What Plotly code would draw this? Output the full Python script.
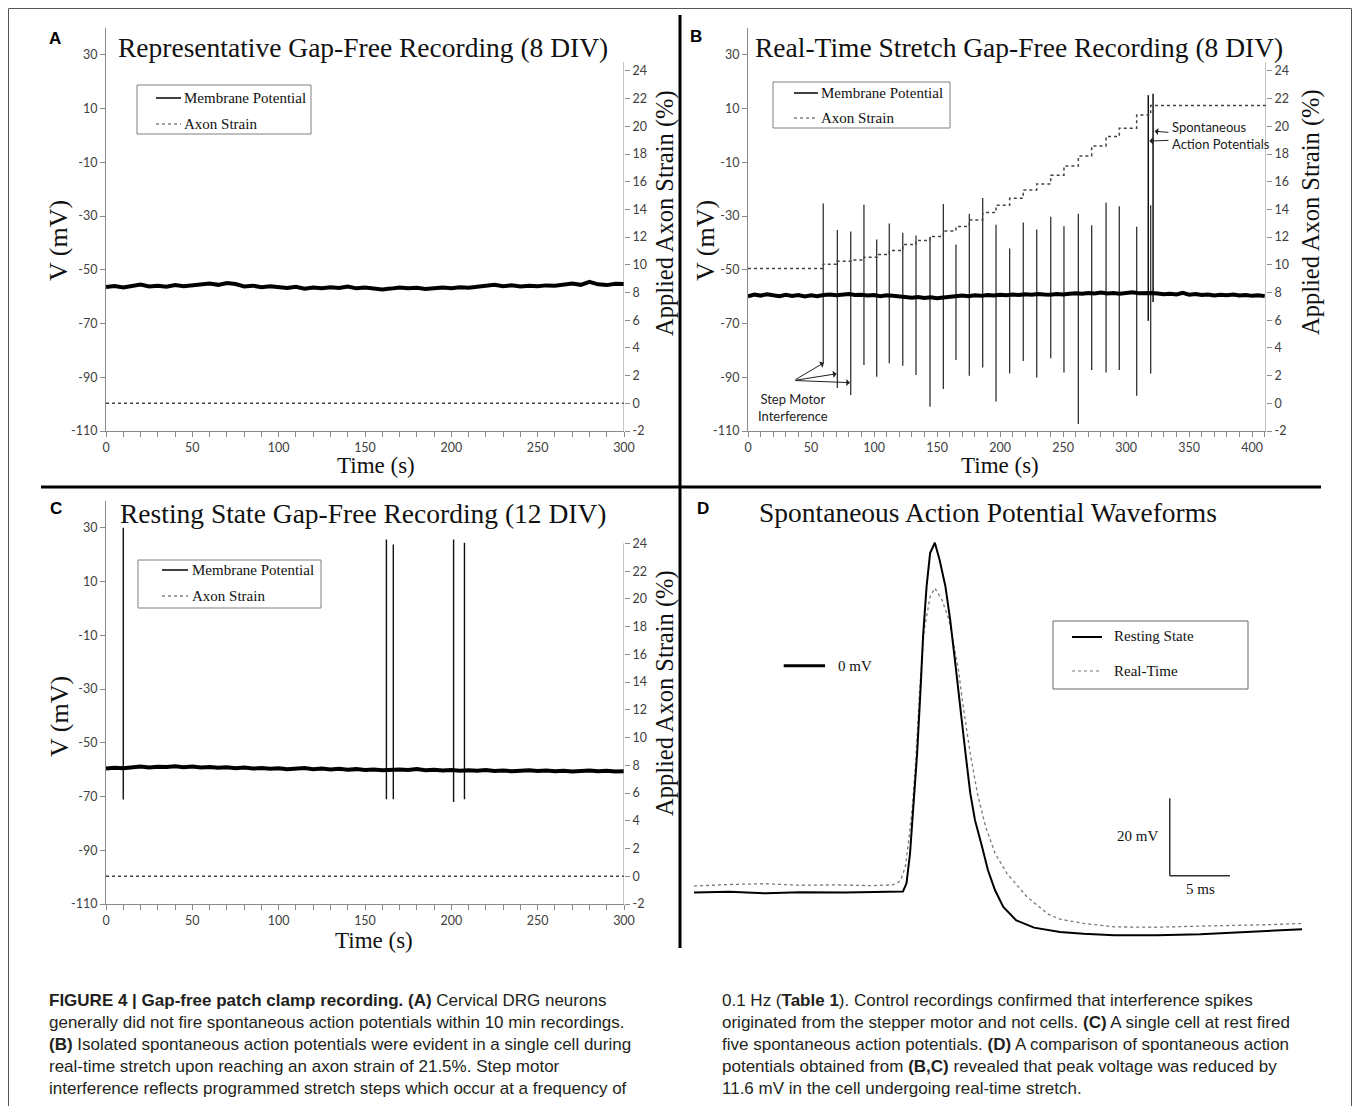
import plotly.graph_objects as go

# The page body has an 8 px margin, so the figure is drawn 8 px in from the window edge.
OX, OY = 8, 8
FW, FH = 1344, 1098
SERIF = "Liberation Serif"
SANS = "Liberation Sans"
TICKF = "Lato"
AX = "#8a8a8a"
TICKCOL = "#404040"

# ---------------- Panel A data ----------------
A_time = list(range(0, 301, 5))
A_vm = [-56.4, -56.0, -56.6, -55.9, -55.5, -56.2, -55.9, -56.3, -55.7, -56.1,
        -55.8, -55.6, -55.1, -55.6, -54.9, -55.3, -56.2, -55.9, -56.5, -56.1,
        -56.4, -56.8, -56.3, -57.0, -56.6, -56.9, -56.5, -56.8, -56.2, -56.9,
        -56.6, -56.9, -57.3, -57.0, -56.6, -56.9, -56.7, -57.1, -57.0, -56.6,
        -56.9, -56.5, -56.7, -56.3, -56.0, -55.6, -56.1, -55.8, -56.2, -55.9,
        -56.1, -55.8, -55.9, -55.6, -55.1, -55.6, -54.5, -55.4, -55.7, -55.2,
        -55.3]
A_strain_time = [0, 300]
A_strain = [0, 0]

# ---------------- Panel B data ----------------
B_time = list(range(0, 411, 5))
B_vm = [-59.9, -59.2, -59.6, -59.1, -59.5, -59.8, -59.3, -59.7, -59.4, -59.9,
        -59.5, -59.8, -59.4, -59.2, -59.5, -59.1, -59.0, -59.4, -59.3, -59.6,
        -59.4, -59.8, -59.5, -59.7, -59.9, -60.2, -60.4, -60.1, -60.5, -60.2,
        -60.6, -60.3, -60.1, -59.8, -59.6, -59.8, -59.5, -59.7, -59.4, -59.6,
        -59.3, -59.5, -59.2, -59.4, -59.1, -59.3, -59.0, -59.2, -59.3, -59.0,
        -59.2, -58.9, -58.7, -58.9, -58.6, -58.8, -58.5, -58.8, -58.6, -58.9,
        -58.6, -58.4, -58.7, -58.5, -58.6, -58.8, -59.1, -58.9, -59.2, -58.6,
        -59.3, -59.0, -59.4, -59.2, -59.6, -59.3, -59.5, -59.2, -59.6, -59.4,
        -59.7, -59.5, -59.8]
B_step_times = [59.7, 70.9, 81.5, 92.0, 102.1, 112.1, 122.8, 133.3, 144.4, 155.0,
                165.0, 175.6, 186.2, 196.8, 207.6, 218.4, 229.1, 240.2, 250.7, 262.1,
                272.7, 284.1, 294.6, 308.4, 319.5]
B_step_tops = [-25.3, -35.2, -35.7, -25.8, -38.7, -32.8, -36.2, -37.2, -37.7, -25.5,
               -40.6, -29.1, -23.3, -33.2, -42.1, -32.4, -35.0, -30.3, -33.8, -29.1,
               -33.4, -25.0, -26.3, -34.0, -26.0]
B_step_bottoms = [-84.8, -94.0, -96.6, -85.4, -89.8, -84.8, -85.7, -89.2, -101.0, -94.4,
                  -83.6, -89.4, -86.4, -99.0, -88.5, -83.9, -90.1, -82.9, -88.2, -107.4,
                  -87.3, -88.2, -87.3, -96.9, -88.6]
B_ap_times = [317.6, 321.4]
B_ap_tops = [15.0, 15.5]
B_ap_bottoms = [-69.0, -62.0]
B_strain_levels = [9.73, 10.04, 10.26, 10.35, 10.55, 10.74, 11.03, 11.46, 11.75, 12.04,
                   12.45, 12.76, 13.24, 13.77, 14.30, 14.80, 15.41, 15.84, 16.47, 17.14,
                   17.86, 18.58, 19.26, 19.86, 20.82, 21.5]
B_end = 411

# ---------------- Panel C data ----------------
C_time = list(range(0, 301, 5))
C_vm = [-59.6, -59.3, -59.5, -59.1, -58.8, -59.2, -58.9, -59.0, -58.7, -59.1,
        -58.8, -59.2, -59.0, -59.3, -59.1, -59.5, -59.2, -59.6, -59.4, -59.7,
        -59.5, -59.8, -59.6, -59.4, -59.8, -59.6, -59.9, -59.7, -60.0, -59.8,
        -60.1, -59.9, -60.2, -60.0, -59.9, -60.1, -59.8, -60.2, -60.0, -60.3,
        -60.1, -60.4, -60.2, -60.4, -60.1, -60.5, -60.3, -60.6, -60.4, -60.2,
        -60.5, -60.3, -60.6, -60.4, -60.7, -60.5, -60.3, -60.6, -60.4, -60.7,
        -60.6]
C_ap_times = [10.0, 162.4, 166.4, 201.3, 207.6]
C_ap_tops = [30.0, 25.7, 23.8, 25.7, 24.5]
C_ap_bottoms = [-71.1, -71.0, -71.0, -72.0, -71.0]
C_strain_time = [0, 300]
C_strain = [0, 0]

# ---------------- Panel D data (ms, mV) ----------------
D_rest_t = [0, 3, 6.1, 9, 12.8, 15, 17.7, 18.0, 18.3, 18.6,
            18.9, 19.2, 19.4, 19.7, 20.0, 20.4, 20.8, 21.3, 21.7, 22.1,
            22.5, 23.0, 23.4, 23.8, 24.4, 24.9, 25.5, 26.2, 27.3, 28.8,
            31.0, 33.0, 35.6, 39.2, 42.9, 46.6, 49, 51.5]
D_rest_v = [-58.9, -58.7, -59.1, -58.8, -58.9, -58.7, -58.6, -56.5, -48.7, -35.7,
            -22.8, -5.5, 7.5, 20.5, 29.2, 31.9, 27.5, 20.5, 11.9, 1.5,
            -9.8, -22.8, -33.1, -40.1, -47.0, -53.1, -58.3, -62.6, -66.1, -68.0,
            -69.1, -69.6, -70.0, -70.0, -69.7, -69.1, -68.8, -68.4]
D_rt_t = [0, 3, 6, 9, 12, 15, 16.8, 17.2, 17.5, 17.9,
          18.2, 18.5, 18.8, 19.1, 19.5, 20.0, 20.4, 21.0, 21.6, 22.0,
          22.4, 22.8, 23.4, 24.0, 24.7, 25.5, 26.5, 28.2, 30.0, 31.0,
          33.0, 35.6, 39.0, 42.9, 46.6, 49.0, 51.5]
D_rt_v = [-57.2, -56.8, -56.6, -57.0, -56.9, -57.1, -56.9, -56.5, -55.7, -52.2,
          -45.0, -36.5, -24.0, -7.0, 9.3, 17.9, 20.1, 17.1, 11.9, 4.9,
          -1.1, -10.6, -22.8, -33.1, -41.8, -48.7, -53.9, -60.0, -64.5, -65.8,
          -66.9, -67.8, -67.9, -67.6, -67.4, -67.2, -66.9]

# tick labels
V_TICKS = [-110, -90, -70, -50, -30, -10, 10, 30]
V_TICKTEXT = [str(v) for v in V_TICKS]
S_TICKS = [-2, 0, 2, 4, 6, 8, 10, 12, 14, 16, 18, 20, 22, 24]
S_TICKTEXT = [str(v) for v in S_TICKS]
T_TICKS_300 = [0, 50, 100, 150, 200, 250, 300]
T_TICKS_400 = [0, 50, 100, 150, 200, 250, 300, 350, 400]


def px(x):
    return (x - OX) / FW


def py(y):
    return 1 - (y - OY) / FH


def spike_xy(times, tops, bottoms):
    xs, ys = [], []
    for t, a, b in zip(times, tops, bottoms):
        xs += [t, t, None]
        ys += [a, b, None]
    return xs, ys


fig = go.Figure()
BASEW = 4

# Panel A
fig.add_trace(go.Scatter(x=A_time, y=A_vm, mode="lines", line=dict(color="black", width=BASEW),
                         xaxis="x", yaxis="y", name="Membrane Potential", showlegend=False))
fig.add_trace(go.Scatter(x=A_strain_time, y=A_strain, mode="lines",
                         line=dict(color="#444", width=1.5, dash="dot"),
                         xaxis="x", yaxis="y2", name="Axon Strain", showlegend=False))

# Panel B
sx, sy = spike_xy(B_step_times, B_step_tops, B_step_bottoms)
fig.add_trace(go.Scatter(x=sx, y=sy, mode="lines", line=dict(color="#333", width=1.3),
                         xaxis="x2", yaxis="y3", name="Step motor interference", showlegend=False))
ax_, ay_ = spike_xy(B_ap_times, B_ap_tops, B_ap_bottoms)
fig.add_trace(go.Scatter(x=ax_, y=ay_, mode="lines", line=dict(color="#111", width=1.5),
                         xaxis="x2", yaxis="y3", name="Spontaneous AP", showlegend=False))
fig.add_trace(go.Scatter(x=B_time, y=B_vm, mode="lines", line=dict(color="black", width=BASEW),
                         xaxis="x2", yaxis="y3", name="Membrane Potential", showlegend=False))
fig.add_trace(go.Scatter(x=[0] + B_step_times + [B_end], y=B_strain_levels + [B_strain_levels[-1]],
                         mode="lines", line=dict(color="#444", width=1.5, dash="dot", shape="hv"),
                         xaxis="x2", yaxis="y4", name="Axon Strain", showlegend=False))

# Panel C
cx, cy = spike_xy(C_ap_times, C_ap_tops, C_ap_bottoms)
fig.add_trace(go.Scatter(x=cx, y=cy, mode="lines", line=dict(color="#111", width=1.4),
                         xaxis="x3", yaxis="y5", name="Spontaneous AP", showlegend=False))
fig.add_trace(go.Scatter(x=C_time, y=C_vm, mode="lines", line=dict(color="black", width=BASEW),
                         xaxis="x3", yaxis="y5", name="Membrane Potential", showlegend=False))
fig.add_trace(go.Scatter(x=C_strain_time, y=C_strain, mode="lines",
                         line=dict(color="#444", width=1.5, dash="dot"),
                         xaxis="x3", yaxis="y6", name="Axon Strain", showlegend=False))

# Panel D
fig.add_trace(go.Scatter(x=D_rt_t, y=D_rt_v, mode="lines", line=dict(color="#777", width=1.3, dash="dot"),
                         xaxis="x4", yaxis="y7", name="Real-Time", showlegend=False))
fig.add_trace(go.Scatter(x=D_rest_t, y=D_rest_v, mode="lines", line=dict(color="black", width=2),
                         xaxis="x4", yaxis="y7", name="Resting State", showlegend=False))

tickfont = dict(family=TICKF, size=12.5, color=TICKCOL)


def xcfg(dom, rng, ticks, anchor):
    return dict(domain=dom, range=rng, anchor=anchor, tickmode="array", tickvals=ticks,
                ticktext=[str(t) for t in ticks],
                showline=True, linecolor=AX, linewidth=1, ticks="outside", ticklen=5, tickcolor=AX,
                minor=dict(tick0=0, dtick=10, ticks="outside", ticklen=5, tickcolor=AX, showgrid=False),
                showgrid=False, zeroline=False, tickfont=tickfont, automargin=False)


def ycfg(dom, anchor):
    return dict(domain=dom, range=[-110, 40], anchor=anchor, tickmode="array", tickvals=V_TICKS,
                ticktext=V_TICKTEXT, showline=True, linecolor=AX, linewidth=1, ticks="outside",
                ticklen=5, tickcolor=AX, showgrid=False, zeroline=False, tickfont=tickfont,
                automargin=False)


def y2cfg(overlay, anchor, top):
    return dict(overlaying=overlay, side="right", anchor=anchor, range=[-2, top], tickmode="array",
                tickvals=S_TICKS, ticktext=S_TICKTEXT, showline=False, ticks="outside", ticklen=5,
                tickcolor=AX, showgrid=False, zeroline=False, tickfont=tickfont, automargin=False)


domA_x = [px(106), px(624)]
domB_x = [px(748), px(1266)]
dom_top_y = [py(431), py(28)]
dom_bot_y = [py(904), py(501)]

layout = dict(
    width=FW, height=FH, paper_bgcolor="white", plot_bgcolor="rgba(0,0,0,0)",
    margin=dict(l=0, r=0, t=0, b=0, autoexpand=False),
    font=dict(family=SERIF, color="#111"),
    showlegend=False,
    xaxis=xcfg(domA_x, [0, 300], T_TICKS_300, "y"),
    yaxis=ycfg(dom_top_y, "x"),
    yaxis2=y2cfg("y", "x", 27.1),
    xaxis2=xcfg(domB_x, [0, B_end], T_TICKS_400, "y3"),
    yaxis3=ycfg(dom_top_y, "x2"),
    yaxis4=y2cfg("y3", "x2", 27.1),
    xaxis3=xcfg(domA_x, [0, 300], T_TICKS_300, "y5"),
    yaxis5=ycfg(dom_bot_y, "x3"),
    yaxis6=y2cfg("y5", "x3", 27.06),
    xaxis4=dict(domain=[px(694), px(1302)], range=[0, 51.5], anchor="y7", visible=False),
    yaxis7=dict(domain=[py(950), py(530)], range=[-73.8, 35.2], anchor="x4", visible=False),
)
fig.update_layout(**layout)

shapes = []
ann = []


def pline(x0, y0, x1, y1, color="black", width=1, dash=None):
    d = dict(type="line", xref="paper", yref="paper", x0=px(x0), y0=py(y0), x1=px(x1), y1=py(y1),
             line=dict(color=color, width=width))
    if dash:
        d["line"]["dash"] = dash
    shapes.append(d)


def prect(x0, y0, x1, y1, color="#808080"):
    shapes.append(dict(type="rect", xref="paper", yref="paper", x0=px(x0), y0=py(y0), x1=px(x1),
                       y1=py(y1), line=dict(color=color, width=1), fillcolor="rgba(0,0,0,0)"))


def ptext(x, y, text, size, family=SERIF, xanchor="center", color="#111", angle=0):
    ann.append(dict(xref="paper", yref="paper", x=px(x), y=py(y), text=text, showarrow=False,
                    xanchor=xanchor, yanchor="middle", textangle=angle,
                    font=dict(family=family, size=size, color=color)))


# frame and dividers
pline(8.5, 8.5, 1351.5, 8.5, "#555", 1)
pline(8.5, 8.5, 8.5, 1106, "#555", 1)
pline(1351.5, 8.5, 1351.5, 1106, "#555", 1)
pline(680, 15, 680, 948, "black", 3)
pline(41, 487, 1321, 487, "black", 3)

# right axis lines (partial)
shapes.append(dict(type="line", xref="x", yref="y2", x0=300, x1=300, y0=-2, y1=24.65, line=dict(color=AX, width=1)))
shapes.append(dict(type="line", xref="x2", yref="y4", x0=B_end, x1=B_end, y0=-2, y1=24.63, line=dict(color=AX, width=1)))
shapes.append(dict(type="line", xref="x3", yref="y6", x0=300, x1=300, y0=-2, y1=24.0, line=dict(color=AX, width=1)))

# panel letters
ptext(55, 38, "<b>A</b>", 17, SANS, color="black")
ptext(696, 37, "<b>B</b>", 17, SANS, color="black")
ptext(56, 508, "<b>C</b>", 17, SANS, color="black")
ptext(703, 509, "<b>D</b>", 17, SANS, color="black")

# titles
ptext(363, 47, "Representative Gap-Free Recording (8 DIV)", 27.5)
ptext(1019, 47, "Real-Time Stretch Gap-Free Recording (8 DIV)", 27.5)
ptext(363, 513, "Resting State Gap-Free Recording (12 DIV)", 27.5)
ptext(988, 512, "Spontaneous Action Potential Waveforms", 27.5)

# axis titles
ptext(59, 240, "V (mV)", 26, angle=-90)
ptext(665, 213, "Applied Axon Strain (%)", 24.5, angle=-90)
ptext(376, 466, "Time (s)", 23)
ptext(705, 241, "V (mV)", 26, angle=-90)
ptext(1311, 212, "Applied Axon Strain (%)", 24.5, angle=-90)
ptext(1000, 466, "Time (s)", 23)
ptext(59, 716, "V (mV)", 26, angle=-90)
ptext(665, 693, "Applied Axon Strain (%)", 24.5, angle=-90)
ptext(374, 940, "Time (s)", 23)


# legends A, B, C
def legend_box(x0, y0, x1, y1, sx0, sx1, ya, yb, tx):
    prect(x0, y0, x1, y1)
    pline(sx0, ya, sx1, ya, "black", 1.5)
    pline(sx0, yb, sx1, yb, "#444", 1.2, "dot")
    ptext(tx, ya, "Membrane Potential", 15, xanchor="left")
    ptext(tx, yb, "Axon Strain", 15, xanchor="left")


legend_box(137, 85, 311, 134, 156, 181, 98, 124, 182)
legend_box(773, 82, 950, 128, 794, 818, 93, 118, 819)
legend_box(138, 560, 321, 608, 162, 188, 570, 596, 190)

# legend D
prect(1053, 621, 1248, 689, "#666")
pline(1072, 637, 1102, 637, "black", 2)
pline(1072, 671, 1102, 671, "#777", 1.2, "dot")
ptext(1112, 636, "Resting State", 15, xanchor="left")
ptext(1112, 671, "Real-Time", 15, xanchor="left")

# panel D scale bars (data coords)
shapes.append(dict(type="line", xref="x4", yref="y7", x0=7.6, x1=11.1, y0=0, y1=0, line=dict(color="black", width=3)))
shapes.append(dict(type="line", xref="x4", yref="y7", x0=40.3, x1=40.3, y0=-34.4, y1=-54.5, line=dict(color="#333", width=1.5)))
shapes.append(dict(type="line", xref="x4", yref="y7", x0=40.3, x1=45.4, y0=-54.5, y1=-54.5, line=dict(color="#333", width=1.5)))
ann.append(dict(xref="x4", yref="y7", x=12.0, y=0, text="0 mV", showarrow=False, xanchor="left",
                yanchor="middle", font=dict(family=SERIF, size=15, color="#111")))
ann.append(dict(xref="x4", yref="y7", x=39.5, y=-44.2, text="20 mV", showarrow=False, xanchor="right",
                yanchor="middle", font=dict(family=SERIF, size=15, color="#111")))
ann.append(dict(xref="x4", yref="y7", x=42.9, y=-57.9, text="5 ms", showarrow=False, xanchor="center",
                yanchor="middle", font=dict(family=SERIF, size=15, color="#111")))

# panel B annotations
afont = dict(family=TICKF, size=13, color="#222")
for hx, hy in [(60.2, -84.6), (70.3, -88.7), (80.9, -92.0)]:
    ann.append(dict(xref="x2", yref="y3", axref="x2", ayref="y3", x=hx, y=hy, ax=36.5, ay=-91.2,
                    text="", showarrow=True, arrowhead=1, arrowsize=1.2, arrowwidth=1, arrowcolor="#222"))
ann.append(dict(xref="x2", yref="y3", x=35.5, y=-94.5, text="Step Motor<br>Interference", showarrow=False,
                xanchor="center", yanchor="top", font=afont))
for hx, hy, tx, ty in [(322.6, 1.6, 334.8, 1.1), (318.4, -2.1, 334.8, -1.8)]:
    ann.append(dict(xref="x2", yref="y3", axref="x2", ayref="y3", x=hx, y=hy, ax=tx, ay=ty,
                    text="", showarrow=True, arrowhead=1, arrowsize=1.2, arrowwidth=1, arrowcolor="#222"))
ann.append(dict(xref="x2", yref="y3", x=335.2, y=-0.2, text="Spontaneous<br>Action Potentials",
                showarrow=False, xanchor="left", yanchor="middle", align="left", font=afont))

# caption
CAP = dict(family=SANS, size=17, color="#231f20")
left_lines = [
    "<b>FIGURE 4 | Gap-free patch clamp recording. (A)</b> Cervical DRG neurons",
    "generally did not fire spontaneous action potentials within 10 min recordings.",
    "<b>(B)</b> Isolated spontaneous action potentials were evident in a single cell during",
    "real-time stretch upon reaching an axon strain of 21.5%. Step motor",
    "interference reflects programmed stretch steps which occur at a frequency of",
]
right_lines = [
    "0.1 Hz (<b>Table 1</b>). Control recordings confirmed that interference spikes",
    "originated from the stepper motor and not cells. <b>(C)</b> A single cell at rest fired",
    "five spontaneous action potentials. <b>(D)</b> A comparison of spontaneous action",
    "potentials obtained from <b>(B,C)</b> revealed that peak voltage was reduced by",
    "11.6 mV in the cell undergoing real-time stretch.",
]
for i, s in enumerate(left_lines):
    ann.append(dict(xref="paper", yref="paper", x=px(47), y=py(1000 + 22 * i), text=s, showarrow=False,
                    xanchor="left", yanchor="middle", font=CAP))
for i, s in enumerate(right_lines):
    ann.append(dict(xref="paper", yref="paper", x=px(720), y=py(1000 + 22 * i), text=s, showarrow=False,
                    xanchor="left", yanchor="middle", font=CAP))

fig.update_layout(shapes=shapes, annotations=ann)
fig.write_html("out.html")
